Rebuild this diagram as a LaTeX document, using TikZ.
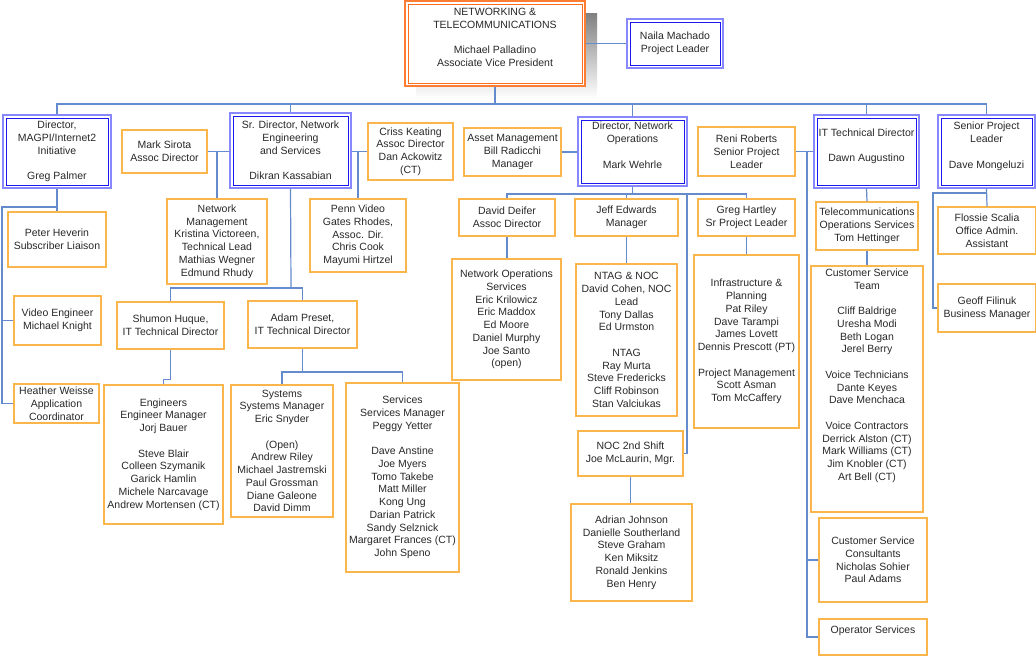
\documentclass[tikz,border=0pt]{standalone}
\usepackage{fontspec}
\setmainfont{Liberation Sans}

\definecolor{boxorange}{RGB}{250,182,75}
\definecolor{topout}{RGB}{255,125,50}
\definecolor{topin}{RGB}{250,110,30}
\definecolor{bossout}{RGB}{135,135,255}
\definecolor{bossin}{RGB}{25,25,235}
\definecolor{linkblue}{RGB}{100,140,205}
\definecolor{shade}{RGB}{204,204,204}
\definecolor{ink}{RGB}{40,40,40}

\tikzset{sz/.style 2 args={minimum width=#1pt,minimum height=#2pt}}

\begin{document}
\begin{tikzpicture}[x=1pt,y=-1pt]
\tikzstyle{txt}=[inner sep=0pt,align=center,text=ink,font=\fontsize{10.5}{12.75}\selectfont]
\tikzstyle{ob}=[txt,draw=boxorange,line width=1.3pt]
\tikzstyle{bb}=[txt,draw=bossout,line width=1.4pt,path picture={\draw[bossin,line width=0.8pt] ([shift={(3pt,3pt)}]path picture bounding box.south west) rectangle ([shift={(-3pt,-3pt)}]path picture bounding box.north east);}]
\tikzstyle{tb}=[txt,fill=white,draw=topout,line width=1.4pt,path picture={\draw[topin,line width=0.9pt] ([shift={(3pt,3pt)}]path picture bounding box.south west) rectangle ([shift={(-3pt,-3pt)}]path picture bounding box.north east);}]
\tikzstyle{ln}=[draw=linkblue,line width=1.2pt]
\useasboundingbox (0,0) rectangle (1036,656);

% top
\fill[shade] (416,13) rectangle (597,98);
\node (avp) at (495,43.5) [tb,sz={180}{85}]{NETWORKING \&\\TELECOMMUNICATIONS\\~\\Michael Palladino\\Associate Vice President\\~};
\node (naila) at (675,43.5) [bb,sz={96}{49}]{Naila Machado\\Project Leader};

% directors
\node (magpi) at (57,151.5) [bb,sz={108}{73}]{Director,\\MAGPI/Internet2\\Initiative\\~\\Greg Palmer};
\node (sreng) at (290.5,150.5) [bb,sz={121}{75}]{Sr. Director, Network\\Engineering\\and Services\\~\\Dikran Kassabian};
\node (netops) at (632.5,151.5) [bb,sz={109}{69}]{Director, Network\\Operations\\~\\Mark Wehrle\\~};
\node (itdir) at (866.5,151.5) [bb,sz={105}{73}]{IT Technical Director\\~\\Dawn Augustino\\~};
\node (spl) at (986.5,151.5) [bb,sz={97}{73}]{Senior Project\\Leader\\~\\Dave Mongeluzi\\~};

\node (sirota) at (164.5,151.5) [ob,sz={85}{43}]{Mark Sirota\\Assoc Director};
\node (criss) at (410.5,151.5) [ob,sz={85}{57}]{Criss Keating\\Assoc Director\\Dan Ackowitz\\(CT)};
\node (asset) at (512.5,152) [ob,sz={97}{48}]{Asset Management\\Bill Radicchi\\Manager};
\node (reni) at (746.5,151.5) [ob,sz={97}{49}]{Reni Roberts\\Senior Project\\Leader};

% MAGPI
\node (peter) at (57,239.5) [ob,sz={98}{55}]{Peter Heverin\\Subscriber Liaison};
\node (video) at (57.5,320.5) [ob,sz={87}{49}]{Video Engineer\\Michael Knight};
\node (heather) at (56.5,403.5) [ob,sz={85}{39}]{Heather Weisse\\Application\\Coordinator};

% engineering and services
\node (netmgmt) at (217,241.5) [ob,sz={100}{85}]{Network\\Management\\Kristina Victoreen,\\Technical Lead\\Mathias Wegner\\Edmund Rhudy};
\node (penn) at (358,235.5) [ob,sz={96}{73}]{Penn Video\\Gates Rhodes,\\Assoc. Dir.\\Chris Cook\\Mayumi Hirtzel};
\node (shumon) at (170.5,325.5) [ob,sz={107}{47}]{Shumon Huque,\\IT Technical Director};
\node (adam) at (302.5,324.5) [ob,sz={109}{47}]{Adam Preset,\\IT Technical Director};
\node (eng) at (163.5,454.5) [ob,sz={119}{139}]{Engineers\\Engineer Manager\\Jorj Bauer\\~\\Steve Blair\\Colleen Szymanik\\Garick Hamlin\\Michele Narcavage\\Andrew Mortensen (CT)};
\node (systems) at (282,451) [ob,sz={102}{132}]{Systems\\Systems Manager\\Eric Snyder\\~\\(Open)\\Andrew Riley\\Michael Jastremski\\Paul Grossman\\Diane Galeone\\David Dimm};
\node (services) at (402.5,477.5) [ob,sz={113}{189}]{Services\\Services Manager\\Peggy Yetter\\~\\Dave Anstine\\Joe Myers\\Tomo Takebe\\Matt Miller\\Kong Ung\\Darian Patrick\\Sandy Selznick\\Margaret Frances (CT)\\John Speno};

% network operations
\node (deifer) at (507,217.5) [ob,sz={96}{37}]{David Deifer\\Assoc Director};
\node (nos) at (506.5,319.5) [ob,sz={109}{121}]{Network Operations\\Services\\Eric Krilowicz\\Eric Maddox\\Ed Moore\\Daniel Murphy\\Joe Santo\\(open)};
\node (jeff) at (626.5,217.5) [ob,sz={103}{37}]{Jeff Edwards\\Manager};
\node (ntag) at (626.5,340) [ob,sz={101}{152}]{NTAG \& NOC\\David Cohen, NOC\\Lead\\Tony Dallas\\Ed Urmston\\~\\NTAG\\Ray Murta\\Steve Fredericks\\Cliff Robinson\\Stan Valciukas};
\node (greg) at (746.5,217.5) [ob,sz={97}{37}]{Greg Hartley\\Sr Project Leader};
\node (infra) at (746.5,341.5) [ob,sz={105}{173}]{Infrastructure \&\\Planning\\Pat Riley\\Dave Tarampi\\James Lovett\\Dennis Prescott (PT)\\~\\Project Management\\Scott Asman\\Tom McCaffery};
\node (noc2) at (630.5,453.5) [ob,sz={105}{45}]{NOC 2nd Shift\\Joe McLaurin, Mgr.};
\node (noclist) at (631.5,552.5) [ob,sz={121}{97}]{Adrian Johnson\\Danielle Southerland\\Steve Graham\\Ken Miksitz\\Ronald Jenkins\\Ben Henry};

% telecommunications
\node (telecom) at (867,226) [ob,sz={102}{48}]{Telecommunications\\Operations Services\\Tom Hettinger};
\node (cst) at (867,389) [ob,sz={112}{246}]{Customer Service\\Team\\~\\Cliff Baldrige\\Uresha Modi\\Beth Logan\\Jerel Berry\\~\\Voice Technicians\\Dante Keyes\\Dave Menchaca\\~\\Voice Contractors\\Derrick Alston (CT)\\Mark Williams (CT)\\Jim Knobler (CT)\\Art Bell (CT)\\[16pt]~};
\node (csc) at (873,560) [ob,sz={108}{84}]{Customer Service\\Consultants\\Nicholas Sohier\\Paul Adams};
\node (opsvc) at (873,637) [ob,sz={108}{36}]{Operator Services\\[2pt]~};

% project leader
\node (flossie) at (987,230.5) [ob,sz={98}{47}]{Flossie Scalia\\Office Admin.\\Assistant};
\node (geoff) at (987,308) [ob,sz={98}{48}]{Geoff Filinuk\\Business Manager};

\coordinate (bus) at (495,104);
\coordinate (mbus) at (2,207);
\coordinate (ebus) at (291,288);
\coordinate (abus) at (302.5,372);
\coordinate (obus) at (632.5,194);
\coordinate (nocdrop) at (687,194);
\coordinate (itv) at (807,151.5);
\coordinate (pbus) at (933,193);

\draw[ln] (avp.east) -- (naila.west);
\foreach \b in {magpi,sreng,netops,itdir,spl}
  \draw[ln] (avp.south) |- (\b.north |- bus) -- (\b.north);

\draw[ln] (magpi.south) -- (peter.north);
\draw[ln] (magpi.south |- mbus) -- (mbus) |- (heather.west);
\draw[ln] (mbus |- video.west) -- (video.west);

\draw[ln] (sirota.east) -- (sirota.east -| sreng.west);
\draw[ln] (netmgmt.north) -- (netmgmt.north |- sirota.east);
\draw[ln] (sreng.east |- criss.west) -- (criss.west);
\draw[ln] (penn.north) -- (penn.north |- criss.west);
\draw[ln] (sreng.south) -- (ebus);
\foreach \b in {shumon,adam}
  \draw[ln] (ebus) -| (\b.north);
\draw[ln] (shumon.south) -- ++(0,30) -| (eng.north);
\draw[ln] (adam.south) -- (abus);
\foreach \b in {systems,services}
  \draw[ln] (abus) -| (\b.north);

\draw[ln] (asset.east) -- (asset.east -| netops.west);
\draw[ln] (netops.south) -- (obus);
\foreach \b in {deifer,jeff,greg}
  \draw[ln] (obus) -| (\b.north);
\draw[ln] (nocdrop) |- (noc2.east);
\draw[ln] (deifer.south) -- (deifer.south |- nos.north);
\draw[ln] (jeff.south) -- (jeff.south |- ntag.north);
\draw[ln] (greg.south) -- (greg.south |- infra.north);
\draw[ln] (noc2.south) -- (noc2.south |- noclist.north);

\draw[ln] (reni.east) -- (reni.east -| itdir.west);
\draw[ln] (itv) |- (opsvc.west);
\draw[ln] (itv |- csc.west) -- (csc.west);
\draw[ln] (itdir.south) -- (telecom.north);
\draw[ln] (telecom.south) -- (cst.north);

\draw[ln] (spl.south) -- (flossie.north);
\draw[ln] (spl.south |- pbus) -- (pbus) |- (geoff.west);
\end{tikzpicture}
\end{document}
